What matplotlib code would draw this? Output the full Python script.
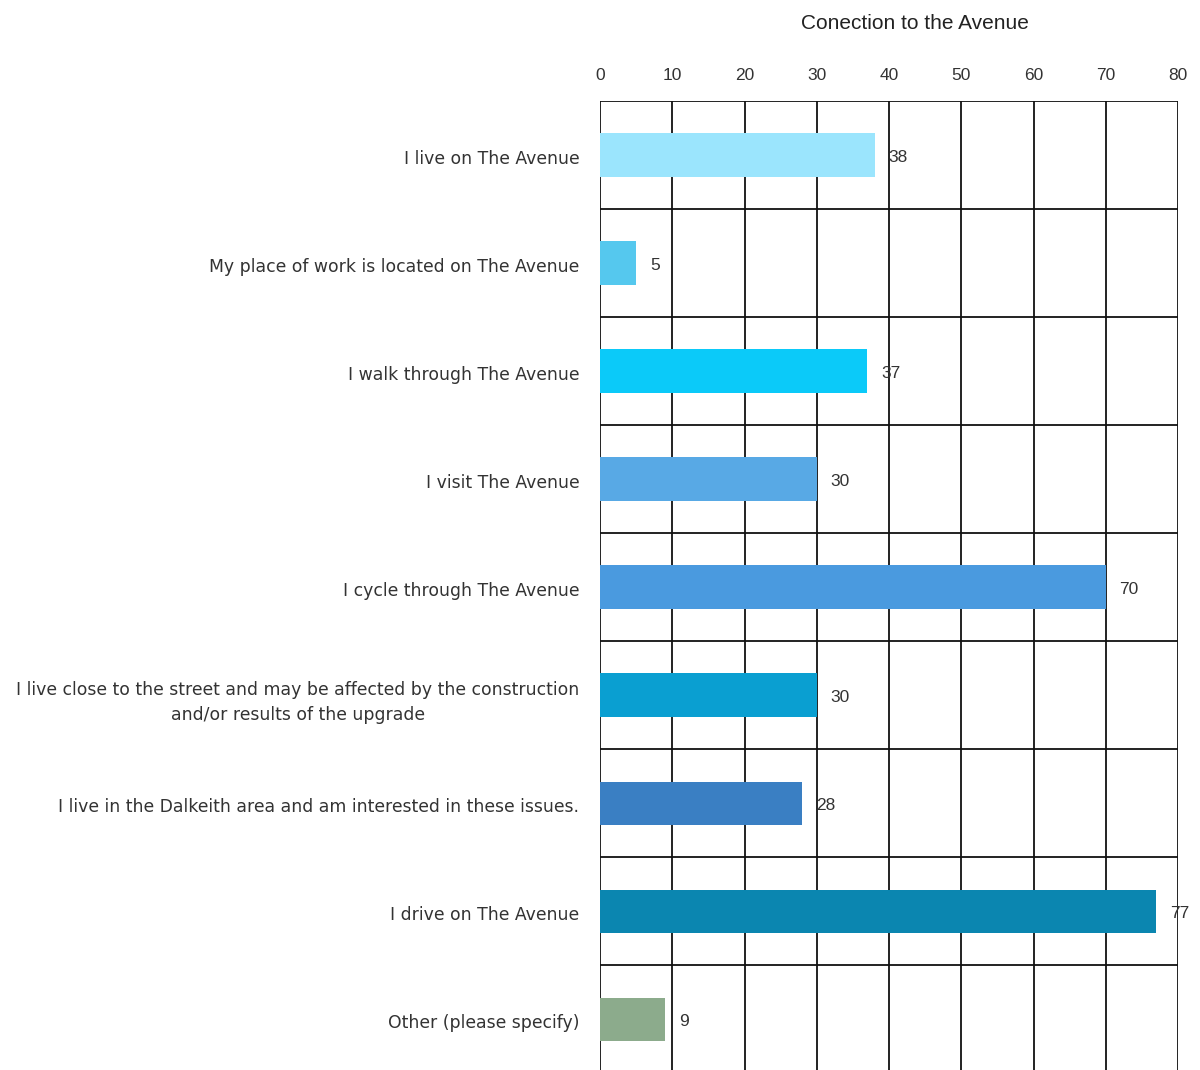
import matplotlib.pyplot as plt
import numpy as np

# Survey responses: connection to the Avenue
labels = [
    "I live on The Avenue",
    "My place of work is located on The Avenue",
    "I walk through The Avenue",
    "I visit The Avenue",
    "I cycle through The Avenue",
    "I live close to the street and may be affected by the construction\nand/or results of the upgrade",
    "I live in the Dalkeith area and am interested in these issues.",
    "I drive on The Avenue",
    "Other (please specify)",
]
counts = [38, 5, 37, 30, 70, 30, 28, 77, 9]
colors = ["#9BE5FD", "#55C8EE", "#0BCAF9", "#58A9E5", "#4A9ADF",
          "#0A9FD1", "#3A7FC3", "#0B86B0", "#8CAB8C"]
xticks = [0, 10, 20, 30, 40, 50, 60, 70, 80]

fig = plt.figure(figsize=(12, 10.7), dpi=100)
ax = fig.add_axes([0.5, -0.003, 0.4817, 0.9087])

y = np.arange(len(labels))
ax.barh(y, counts, height=0.4, color=colors, zorder=3)

# value labels just right of each bar
for yi, c in zip(y, counts):
    ax.text(c + 1.9, yi + 0.02, str(c), va="center", ha="left",
            fontsize=12.5, color="#333333", family="Liberation Sans", zorder=4)

ax.set_xlim(0, 80)
ax.set_ylim(len(labels) - 0.5, -0.5)
ax.set_xticks(xticks)
ax.xaxis.tick_top()
ax.tick_params(axis="x", length=0, pad=13, labelsize=12.5, labelcolor="#333333")
for t in ax.get_xticklabels():
    t.set_family("Liberation Sans")

ax.set_yticks(y + 0.02)
ax.set_yticklabels(labels, multialignment="center", linespacing=1.5)
ax.tick_params(axis="y", which="both", length=0, pad=15, labelsize=12.4,
               labelcolor="#333333")

# row separators between categories
ax.set_yticks(np.arange(len(labels) + 1) - 0.5, minor=True)
ax.grid(True, axis="x", color="#111111", linewidth=1.3, zorder=1)
ax.grid(True, axis="y", which="minor", color="#111111", linewidth=1.3, zorder=1)
ax.grid(False, axis="y", which="major")
for s in ax.spines.values():
    s.set_visible(False)

ax.xaxis.set_label_position("top")
ax.set_xlabel("Conection to the Avenue", fontsize=15, labelpad=28,
              family="Liberation Sans", color="#222222")
ax.xaxis.label.set_x(0.545)

fig.savefig("out.png", dpi=100)
